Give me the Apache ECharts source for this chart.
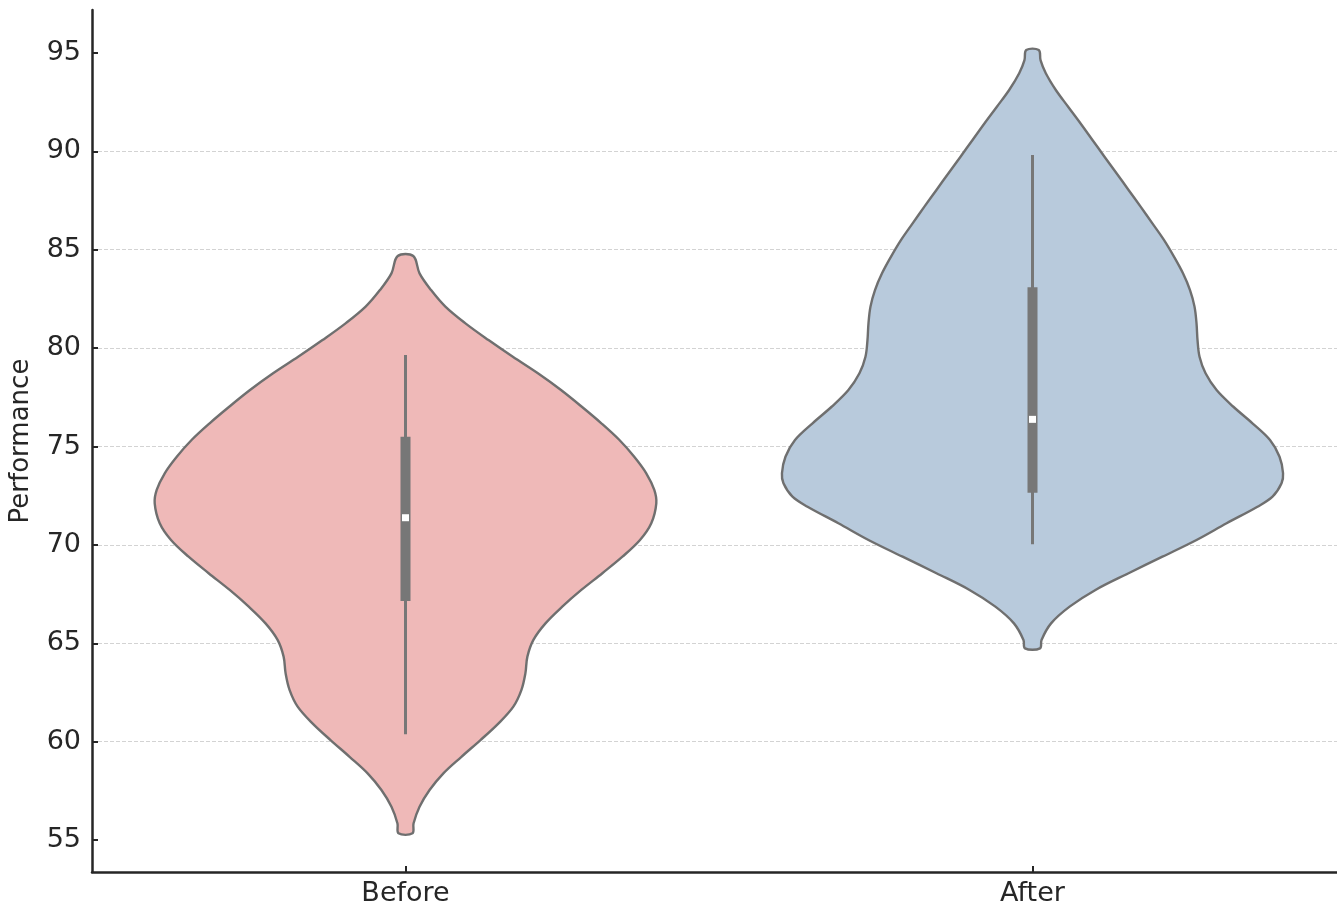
<!DOCTYPE html>
<html>
<head>
<meta charset="utf-8">
<script src="https://cdn.jsdelivr.net/npm/echarts@6/dist/echarts.min.js"></script>
<style>
  html, body { margin: 0; padding: 0; background: #ffffff; }
  #chart { width: 1337px; height: 909px; }
</style>
</head>
<body>
<div id="chart"></div>
<script>
// Groups on the category axis
const categories = ['Before', 'After'];

// Tick values on the performance axis
const yTicks = [55, 60, 65, 70, 75, 80, 85, 90, 95];

// Density profile of the "Before" scores: level -> relative density (1 = widest)
const beforeLevels = [55.34, 55.84, 56.69, 57.54, 58.39, 59.23, 60.08, 60.93, 61.78, 62.62,
  63.47, 64.32, 65.17, 66.01, 66.86, 67.71, 68.56, 69.40, 70.25, 71.10, 72.11, 72.79,
  73.64, 74.48, 75.33, 76.18, 77.02, 77.87, 78.72, 79.56, 80.41, 81.26, 82.11, 82.95,
  83.80, 84.68];
const beforeDensity = [0.028, 0.032, 0.056, 0.096, 0.151, 0.223, 0.299, 0.371, 0.430, 0.462,
  0.478, 0.486, 0.510, 0.558, 0.625, 0.701, 0.785, 0.865, 0.935, 0.980, 1.000, 0.992,
  0.960, 0.912, 0.853, 0.781, 0.703, 0.620, 0.528, 0.428, 0.331, 0.239, 0.159, 0.102,
  0.056, 0.031];

// Density profile of the "After" scores
const afterLevels = [64.74, 65.17, 66.01, 66.86, 67.71, 68.56, 69.40, 70.25, 71.10, 71.94,
  72.45, 73.13, 73.64, 74.48, 75.33, 76.18, 77.02, 77.87, 78.72, 79.56, 80.41, 81.26,
  82.11, 82.95, 83.80, 84.65, 85.50, 86.34, 87.19, 88.04, 88.89, 89.73, 90.58, 91.43,
  92.27, 93.12, 93.97, 94.64, 95.15];
const afterDensity = [0.030, 0.036, 0.074, 0.148, 0.251, 0.383, 0.518, 0.654, 0.774, 0.897,
  0.957, 0.993, 0.999, 0.985, 0.947, 0.877, 0.801, 0.734, 0.690, 0.666, 0.658, 0.654,
  0.646, 0.628, 0.600, 0.564, 0.524, 0.478, 0.431, 0.383, 0.335, 0.287, 0.239, 0.191,
  0.142, 0.093, 0.053, 0.032, 0.025];

// Inner box summaries: [lower whisker, Q1, median, Q3, upper whisker]
const beforeBox = [60.37, 67.15, 71.38, 75.50, 79.65];
const afterBox = [70.03, 72.65, 76.38, 83.09, 89.82];

const violins = [
  { levels: beforeLevels, density: beforeDensity, box: beforeBox, fill: '#EFB9B8' },
  { levels: afterLevels, density: afterDensity, box: afterBox, fill: '#B8CADC' }
];

const TEXT = '#262626';
const FONT = 'DejaVu Sans';

function renderViolin(params, api) {
  const idx = api.value(0);
  const v = violins[idx];
  const band = api.size([1, 0])[0];
  const halfMax = band * 0.4;           // widest point spans 80% of the band
  const cx = api.coord([idx, v.box[2]])[0];

  const right = [];
  const left = [];
  for (let i = 0; i < v.levels.length; i++) {
    const y = api.coord([idx, v.levels[i]])[1];
    const w = v.density[i] * halfMax;
    right.push([cx + w, y]);
    left.push([cx - w, y]);
  }
  const outline = right.concat(left.reverse());

  const yLo = api.coord([idx, v.box[0]])[1];
  const yQ1 = api.coord([idx, v.box[1]])[1];
  const yMed = api.coord([idx, v.box[2]])[1];
  const yQ3 = api.coord([idx, v.box[3]])[1];
  const yHi = api.coord([idx, v.box[4]])[1];
  const boxW = 10;
  const dot = 7;

  return {
    type: 'group',
    children: [
      {
        type: 'polygon',
        shape: { points: outline, smooth: 0.35 },
        style: { fill: v.fill, stroke: '#6f6f6f', lineWidth: 2.4 }
      },
      {
        type: 'line',
        shape: { x1: cx, y1: yLo, x2: cx, y2: yHi },
        style: { stroke: '#777777', lineWidth: 3 }
      },
      {
        type: 'rect',
        shape: { x: cx - boxW / 2, y: yQ3, width: boxW, height: yQ1 - yQ3 },
        style: { fill: '#777777' }
      },
      {
        type: 'rect',
        shape: { x: cx - dot / 2, y: yMed - dot / 2, width: dot, height: dot },
        style: { fill: '#ffffff' }
      }
    ]
  };
}

const chart = echarts.init(document.getElementById('chart'), null, { renderer: 'canvas' });

chart.setOption({
  animation: false,
  backgroundColor: '#ffffff',
  textStyle: { fontFamily: FONT },
  grid: {
    left: 92,
    top: 10,
    width: 1254,
    height: 862,
    containLabel: false,
    outerBoundsMode: 'none'
  },
  xAxis: {
    type: 'category',
    data: categories,
    boundaryGap: true,
    axisLine: { show: true, lineStyle: { color: '#262626', width: 2.5 } },
    axisTick: {
      show: true, inside: true, alignWithLabel: true, length: 6,
      lineStyle: { color: '#262626', width: 2 }
    },
    axisLabel: { fontSize: 27, color: TEXT, margin: 8, fontFamily: FONT },
    splitLine: { show: false }
  },
  yAxis: {
    type: 'value',
    min: 53.374,
    max: 97.185,
    splitNumber: 8,
    name: 'Performance',
    nameLocation: 'middle',
    nameGap: 58,
    nameRotate: 90,
    nameTextStyle: { fontSize: 26, color: TEXT, fontFamily: FONT },
    axisLine: { show: true, lineStyle: { color: '#262626', width: 2.5 } },
    axisTick: {
      show: true, inside: true, length: 6,
      customValues: yTicks,
      lineStyle: { color: '#262626', width: 2 }
    },
    axisLabel: {
      fontSize: 27, color: TEXT, margin: 11, fontFamily: FONT,
      customValues: yTicks,
      showMinLabel: true, showMaxLabel: true
    },
    splitLine: {
      show: true,
      showMinLine: false,
      showMaxLine: false,
      lineStyle: { color: '#d3d3d3', width: 1, type: [4, 2] }
    }
  },
  series: [
    {
      type: 'custom',
      name: 'Performance',
      renderItem: renderViolin,
      encode: { x: 0, y: 1 },
      clip: false,
      data: categories.map((c, i) => [i, violins[i].box[2]]),
      z: 5
    }
  ]
});
</script>
</body>
</html>
